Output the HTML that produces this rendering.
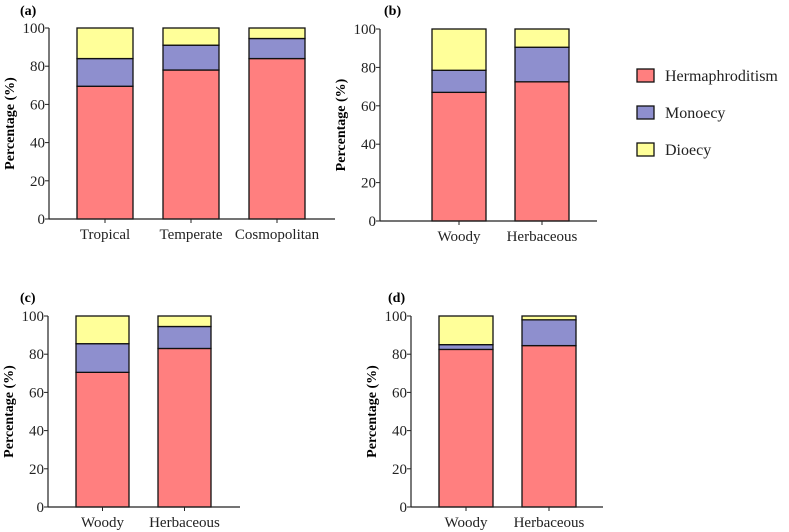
<!DOCTYPE html>
<html><head><meta charset="utf-8"><style>
html,body{margin:0;padding:0;background:#fff;}
svg{display:block;}
svg text{font-family:"Liberation Serif","DejaVu Serif","Times New Roman",serif;}
</style></head><body>
<svg id="c" width="789" height="532" viewBox="0 0 789 532" xmlns="http://www.w3.org/2000/svg"></svg>
<script>
const panelLabels = ["(a)","(b)","(c)","(d)"];
const catsA = ["Tropical","Temperate","Cosmopolitan"];
const catsB = ["Woody","Herbaceous"];
const hermA = [69.5,78,84];
const monoA = [14.5,13,10.5];
const dioA  = [16,9,5.5];
const hermB = [67,72.5];
const monoB = [11.5,18];
const dioB  = [21.5,9.5];
const hermC = [70.5,83];
const monoC = [15,11.5];
const dioC  = [14.5,5.5];
const hermD = [82.5,84.5];
const monoD = [2.5,13.5];
const dioD  = [15,2];
const yTicks = [0,20,40,60,80,100];
const seriesNames = ["Hermaphroditism","Monoecy","Dioecy"];
const colors = ["#FF7F7F","#8E8FCE","#FFFF99"];

const NS="http://www.w3.org/2000/svg";
const FONT='"Liberation Serif", "DejaVu Serif", serif';
const svg=document.getElementById('c');
function mk(tag,attrs,parent){const e=document.createElementNS(NS,tag);for(const k in attrs)e.setAttribute(k,attrs[k]);if(tag==='text')e.setAttribute('font-family',FONT);(parent||svg).appendChild(e);return e;}

const panels=[
 {lab:panelLabels[0],cats:catsA,s:[hermA,monoA,dioA],ax:49,x1:335,top:28,bot:219,barL:77,barW:56,step:86,lx:20,ly:15},
 {lab:panelLabels[1],cats:catsB,s:[hermB,monoB,dioB],ax:380,x1:597,top:29,bot:221,barL:432,barW:54,step:83,lx:384,ly:15},
 {lab:panelLabels[2],cats:catsB,s:[hermC,monoC,dioC],ax:48,x1:240,top:316,bot:507,barL:76,barW:53,step:82,lx:20,ly:302},
 {lab:panelLabels[3],cats:catsB,s:[hermD,monoD,dioD],ax:411,x1:603,top:316,bot:507,barL:439,barW:54,step:83,lx:388,ly:302}
];
panels.forEach((p,pi)=>{
  const g=mk('g',{});
  
  
  const y=v=>p.bot-(v/100)*(p.bot-p.top);
  const t=mk('text',{x:p.lx,y:p.ly,'font-size':14,'font-weight':'bold'},g);t.textContent=p.lab;
  
  
  const cy=(p.top+p.bot)/2;
  const yt=mk('text',{x:0,y:0,'font-size':14,'font-weight':'bold','text-anchor':'middle',transform:`translate(${p.ax-35},${cy}) rotate(-90)`},g);
  yt.textContent="Percentage (%)";
  
  
  p.cats.forEach((c,i)=>{
    const bx=p.barL+i*p.step;let acc=0;
    p.s.forEach((ser,si)=>{
      const v=ser[i];
      const r=mk('rect',{x:bx,y:y(acc+v),width:p.barW,height:y(acc)-y(acc+v),fill:colors[si],stroke:'#111','stroke-width':1.3},g);
      
      
      acc+=v;
    });
    const cx=bx+p.barW/2;
    mk('line',{x1:cx,x2:cx,y1:p.bot,y2:p.bot+4,stroke:'#222','stroke-width':1},g);
    const xl=mk('text',{x:cx,y:p.bot+20,'font-size':15,'text-anchor':'middle',fill:'#222'},g);xl.textContent=c;
    
    
  });
  mk('line',{x1:p.ax,x2:p.ax,y1:p.top,y2:p.bot,stroke:'#222','stroke-width':1.2},g);
  mk('line',{x1:p.ax,x2:p.x1,y1:p.bot,y2:p.bot,stroke:'#222','stroke-width':1.2},g);
  yTicks.forEach(v=>{
    mk('line',{x1:p.ax-4,x2:p.ax,y1:y(v),y2:y(v),stroke:'#222','stroke-width':1},g);
    const tl=mk('text',{x:p.ax-4,y:y(v)+5,'font-size':15,'text-anchor':'end',fill:'#222'},g);tl.textContent=v;
    
    
  });
});
seriesNames.forEach((n,i)=>{
  const yy=69+i*37;
  const r=mk('rect',{x:637,y:yy,width:17,height:13,fill:colors[i],stroke:'#111','stroke-width':1.3});
  
  
  const t=mk('text',{x:665,y:yy+12,'font-size':16,fill:'#222'});t.textContent=n;
  
  
});
</script>
</body></html>
